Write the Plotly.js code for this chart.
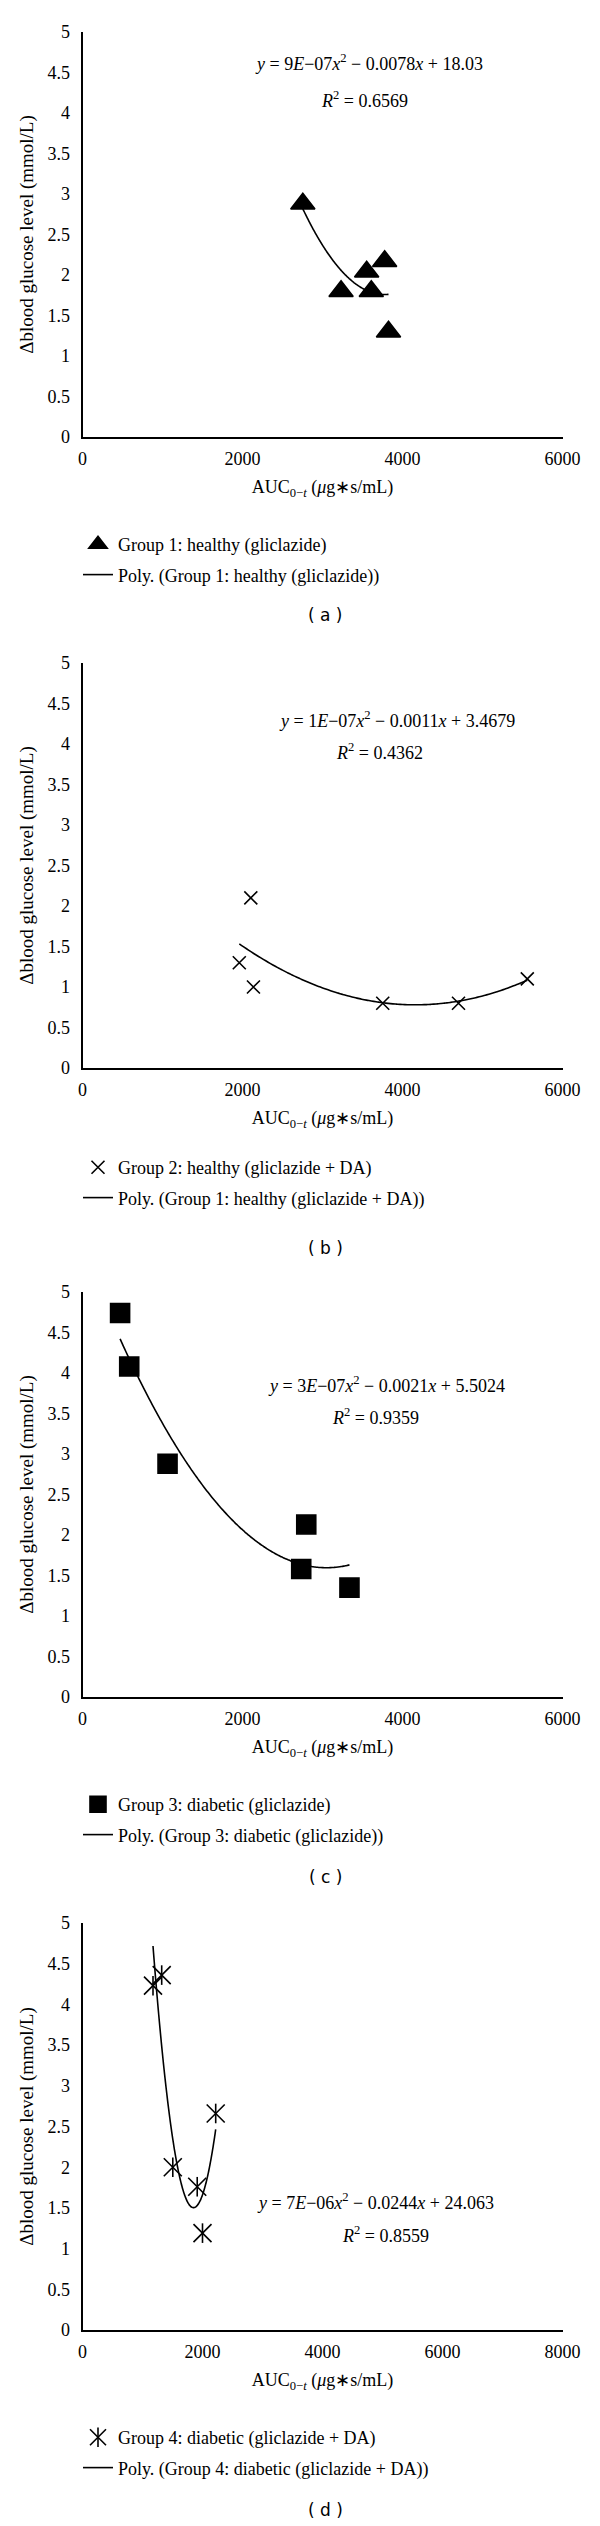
<!DOCTYPE html>
<html><head><meta charset="utf-8">
<script src="https://cdn.plot.ly/plotly-3.0.1.min.js"></script>
<style>body{margin:0;background:#fff}</style>
</head><body><div id="chart" style="width:600px;height:2526px"></div>
<script>
// ---- data ----
const auc_g1 = [2754, 3232, 3552, 3610, 3777, 3825];
const glu_g1 = [2.88, 1.80, 2.04, 1.80, 2.17, 1.30];
const auc_g2 = [1960, 2104, 2137, 3753, 4700, 5560];
const glu_g2 = [1.30, 2.10, 1.00, 0.80, 0.80, 1.10];
const auc_g3 = [470, 584, 1063, 2734, 2797, 3337];
const glu_g3 = [4.74, 4.08, 2.88, 1.58, 2.13, 1.35];
const auc_g4 = [1175, 1320, 1505, 1912, 2000, 2220];
const glu_g4 = [4.23, 4.36, 2.00, 1.76, 1.19, 2.66];

const xMaxes = [6000, 6000, 6000, 8000];
const yTicks = [0, 0.5, 1, 1.5, 2, 2.5, 3, 3.5, 4, 4.5, 5];
const seriesNames = [
  'Group 1: healthy (gliclazide)',
  'Group 2: healthy (gliclazide + DA)',
  'Group 3: diabetic (gliclazide)',
  'Group 4: diabetic (gliclazide + DA)'
];
const polyNames = [
  'Poly. (Group 1: healthy (gliclazide))',
  'Poly. (Group 1: healthy (gliclazide + DA))',
  'Poly. (Group 3: diabetic (gliclazide))',
  'Poly. (Group 4: diabetic (gliclazide + DA))'
];
const eqTexts = [
  '<i>y</i> = 9<i>E</i>\u221207<i>x</i><sup>2</sup> \u2212 0.0078<i>x</i> + 18.03',
  '<i>y</i> = 1<i>E</i>\u221207<i>x</i><sup>2</sup> \u2212 0.0011<i>x</i> + 3.4679',
  '<i>y</i> = 3<i>E</i>\u221207<i>x</i><sup>2</sup> \u2212 0.0021<i>x</i> + 5.5024',
  '<i>y</i> = 7<i>E</i>\u221206<i>x</i><sup>2</sup> \u2212 0.0244<i>x</i> + 24.063'
];
const r2Texts = [
  '<i>R</i><sup>2</sup> = 0.6569',
  '<i>R</i><sup>2</sup> = 0.4362',
  '<i>R</i><sup>2</sup> = 0.9359',
  '<i>R</i><sup>2</sup> = 0.8559'
];
const panelLabels = ['( a )', '( b )', '( c )', '( d )'];
const xTitle = 'AUC<sub>0\u2212<i>t</i></sub> (<i>\u03bc</i>g\u2217s/mL)';
const yTitle = '\u0394blood glucose level (mmol/L)';

const xs = [auc_g1, auc_g2, auc_g3, auc_g4];
const ys = [glu_g1, glu_g2, glu_g3, glu_g4];

// ---- layout constants (pixels) ----
const W = 600, H = 2526;
const plotLeft = 82.5, plotRight = 562.5;
const panelTop = [32, 663, 1292, 1923];
const panelH = [405, 405, 405, 407];
const eqPos = [[369, 63], [397, 719], [386, 1384], [375, 2201]];
const r2Pos = [[364, 99], [379, 751], [375, 1416], [385, 2234]];
const legendTop = [526, 1149, 1786, 2419];
const labelPos = [[325, 615], [325, 1248], [325, 1877], [325, 2510]];

const SERIF = 'Liberation Serif, Times New Roman, serif';
const BLACK = '#000';

function px2x(p) { return p / W; }
function px2y(p) { return 1 - p / H; }

// least-squares quadratic trend line (as the spreadsheet trendline does)
function polyfit2(xv, yv) {
  const u = xv.map(v => v / 1000);
  const S = [0, 0, 0, 0, 0], T = [0, 0, 0];
  for (let i = 0; i < u.length; i++) {
    for (let k = 0; k < 5; k++) S[k] += Math.pow(u[i], k);
    for (let k = 0; k < 3; k++) T[k] += yv[i] * Math.pow(u[i], k);
  }
  const A = [[S[0], S[1], S[2], T[0]], [S[1], S[2], S[3], T[1]], [S[2], S[3], S[4], T[2]]];
  for (let c = 0; c < 3; c++) {
    let p = c;
    for (let r = c + 1; r < 3; r++) if (Math.abs(A[r][c]) > Math.abs(A[p][c])) p = r;
    [A[c], A[p]] = [A[p], A[c]];
    for (let r = 0; r < 3; r++) {
      if (r === c) continue;
      const f = A[r][c] / A[c][c];
      for (let k = c; k < 4; k++) A[r][k] -= f * A[c][k];
    }
  }
  const coef = [A[0][3] / A[0][0], A[1][3] / A[1][1], A[2][3] / A[2][2]];
  return x => { const v = x / 1000; return coef[0] + coef[1] * v + coef[2] * v * v; };
}

const symbols = ['triangle-up', 'x-thin-open', 'square', 'x-thin-open'];
const sizes = [21, 13, 19, 18];

const data = [];
const layout = {
  width: W, height: H,
  margin: {l: 0, r: 0, t: 0, b: 0},
  paper_bgcolor: '#fff', plot_bgcolor: '#fff',
  font: {family: SERIF, size: 18, color: BLACK},
  showlegend: true,
  annotations: []
};

const legendFont = {family: SERIF, size: 18, color: BLACK};

for (let i = 0; i < 4; i++) {
  const sfx = i === 0 ? '' : String(i + 1);
  const xa = 'x' + sfx, ya = 'y' + sfx;
  const lg = 'legend' + sfx;
  const fit = polyfit2(xs[i], ys[i]);
  const lo = Math.min(...xs[i]), hi = Math.max(...xs[i]);
  const cx = [], cy = [];
  for (let k = 0; k <= 120; k++) { const xv = lo + (hi - lo) * k / 120; cx.push(xv); cy.push(fit(xv)); }

  data.push({
    type: 'scatter', mode: 'markers', x: xs[i], y: ys[i], xaxis: xa, yaxis: ya,
    name: seriesNames[i], legend: lg, legendgroup: 'm' + i,
    marker: {symbol: symbols[i], size: sizes[i], color: BLACK, line: {color: BLACK, width: 1.6}},
    cliponaxis: false
  });
  if (i === 3) {
    // vertical stroke completing the six-armed asterisk marker (plot + legend symbol)
    data.push({
      type: 'scatter', mode: 'markers', x: xs[i], y: ys[i], xaxis: xa, yaxis: ya,
      name: ' ', legend: 'legend5', legendgroup: 'm3b',
      marker: {symbol: 'line-ns-open', size: 14, color: BLACK, line: {color: BLACK, width: 1.6}},
      cliponaxis: false
    });
  }
  data.push({
    type: 'scatter', mode: 'lines', x: cx, y: cy, xaxis: xa, yaxis: ya,
    name: polyNames[i], legend: lg, legendgroup: 'l' + i,
    line: {color: BLACK, width: 1.6, shape: 'spline'}, cliponaxis: false
  });

  const top = panelTop[i], bot = panelTop[i] + panelH[i];
  layout['xaxis' + sfx] = {
    domain: [px2x(plotLeft), px2x(plotRight)], anchor: ya,
    range: [0, xMaxes[i]], tick0: 0, dtick: 2000,
    showgrid: false, zeroline: false, showline: true, linecolor: BLACK, linewidth: 2,
    ticks: '', ticklabelstandoff: 4,
    tickfont: {family: SERIF, size: 18, color: BLACK},
    title: {text: xTitle, font: {family: SERIF, size: 18, color: BLACK}, standoff: 13},
    fixedrange: true
  };
  layout['yaxis' + sfx] = {
    domain: [px2y(bot), px2y(top)], anchor: xa,
    range: [0, 5], tickvals: yTicks,
    showgrid: false, zeroline: false, showline: true, linecolor: BLACK, linewidth: 2,
    ticks: '', ticklabelstandoff: 7,
    tickfont: {family: SERIF, size: 18, color: BLACK},
    title: {text: yTitle, font: {family: SERIF, size: 19, color: BLACK}, standoff: 9},
    fixedrange: true
  };
  layout[lg] = {
    x: px2x(78), y: px2y(legendTop[i]), xanchor: 'left', yanchor: 'top',
    bgcolor: 'rgba(0,0,0,0)', borderwidth: 0,
    font: legendFont,
    traceorder: 'grouped', tracegroupgap: 4
  };
  layout.annotations.push({
    xref: 'paper', yref: 'paper', x: px2x(eqPos[i][0]), y: px2y(eqPos[i][1]),
    xanchor: 'center', yanchor: 'middle', showarrow: false, text: eqTexts[i],
    font: {family: SERIF, size: 18, color: BLACK}
  });
  layout.annotations.push({
    xref: 'paper', yref: 'paper', x: px2x(r2Pos[i][0]), y: px2y(r2Pos[i][1]),
    xanchor: 'center', yanchor: 'middle', showarrow: false, text: r2Texts[i],
    font: {family: SERIF, size: 18, color: BLACK}
  });
  layout.annotations.push({
    xref: 'paper', yref: 'paper', x: px2x(labelPos[i][0]), y: px2y(labelPos[i][1]),
    xanchor: 'center', yanchor: 'middle', showarrow: false, text: panelLabels[i],
    font: {family: 'DejaVu Sans, Verdana, sans-serif', size: 17, color: BLACK}
  });
}
// overlay legend so the Group 4 legend symbol shows the full asterisk
layout.legend5 = {
  x: px2x(78), y: px2y(legendTop[3]), xanchor: 'left', yanchor: 'top',
  bgcolor: 'rgba(0,0,0,0)', borderwidth: 0, font: legendFont
};

Plotly.newPlot('chart', data, layout, {staticPlot: true, displayModeBar: false});
</script>
</body></html>
